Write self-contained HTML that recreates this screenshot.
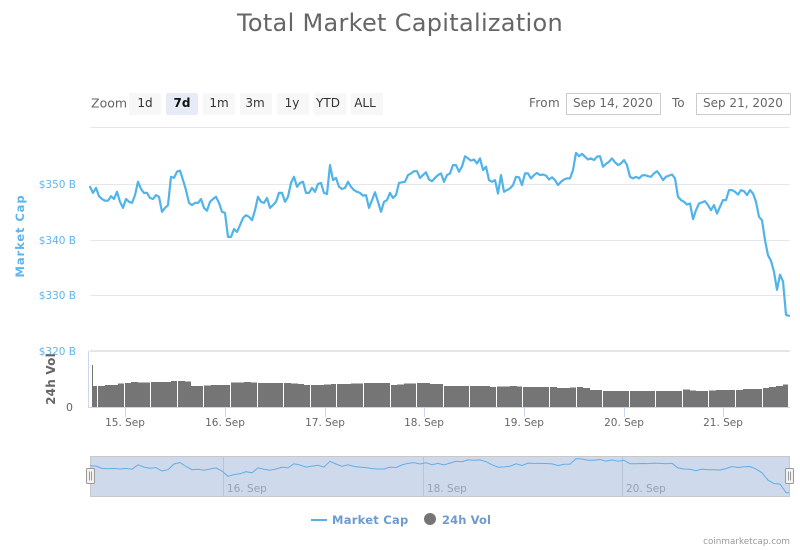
<!DOCTYPE html>
<html lang="en">
<head>
<meta charset="utf-8">
<title>Total Market Capitalization</title>
<style>
html,body{margin:0;padding:0;background:#fff;width:800px;height:550px;overflow:hidden}
svg{display:block;font-family:"DejaVu Sans","Liberation Sans",sans-serif}
.btn-bg{fill:#f7f7f7}
.btn-text{font-size:12px;fill:#333;text-anchor:middle}
</style>
</head>
<body>
<svg id="chart" width="800" height="550" viewBox="0 0 800 550" xmlns="http://www.w3.org/2000/svg">
  <text x="400" y="31" text-anchor="middle" font-size="24" fill="#666" letter-spacing="0.3">Total Market Capitalization</text>

  <text x="91" y="107.5" font-size="12.5" fill="#666">Zoom</text>
  <g><rect class="btn-bg" x="129" y="93" width="32" height="22" rx="2"/><text class="btn-text" x="145" y="107">1d</text></g>
  <g><rect x="166" y="93" width="32" height="22" rx="2" fill="#e6ebf5"/><text class="btn-text" x="182" y="107" font-weight="bold" style="fill:#111">7d</text></g>
  <g><rect class="btn-bg" x="203" y="93" width="32" height="22" rx="2"/><text class="btn-text" x="219" y="107">1m</text></g>
  <g><rect class="btn-bg" x="240" y="93" width="32" height="22" rx="2"/><text class="btn-text" x="255" y="107">3m</text></g>
  <g><rect class="btn-bg" x="277" y="93" width="32" height="22" rx="2"/><text class="btn-text" x="292" y="107">1y</text></g>
  <g><rect class="btn-bg" x="314" y="93" width="32" height="22" rx="2"/><text class="btn-text" x="328" y="107">YTD</text></g>
  <g><rect class="btn-bg" x="351" y="93" width="32" height="22" rx="2"/><text class="btn-text" x="365" y="107">ALL</text></g>

  <text x="529" y="107" font-size="12" fill="#666" letter-spacing="0.3">From</text>
  <g><rect x="566.5" y="93.5" width="94" height="21" fill="#fff" stroke="#ccc"/><text x="573" y="107" font-size="12" fill="#666">Sep 14, 2020</text></g>
  <text x="672" y="107" font-size="12" fill="#666">To</text>
  <g><rect x="696.5" y="93.5" width="94" height="21" fill="#fff" stroke="#ccc"/><text x="703" y="107" font-size="12" fill="#666">Sep 21, 2020</text></g>

  <g id="grid"></g>
  <rect x="90" y="127" width="700" height="1" fill="#e6e6e6"/>
  <g id="ylabels"></g>
  <text transform="translate(24,236) rotate(-90)" text-anchor="middle" font-size="11.5" font-weight="bold" fill="#5db5ee" letter-spacing="0.9">Market Cap</text>

  <path id="cap-line" fill="none" stroke="#50b3ea" stroke-width="2.2" stroke-linejoin="round" stroke-linecap="round"/>

  <rect x="88" y="351" width="1" height="57" fill="#ccd6eb"/>
  <g id="vol-bars"></g>
  <text transform="translate(55,379) rotate(-90)" text-anchor="middle" font-size="12" font-weight="bold" fill="#666" letter-spacing="0.2">24h Vol</text>
  <text x="73" y="411" text-anchor="end" font-size="11" fill="#666">0</text>
  <rect x="88" y="407" width="702" height="1" fill="#ccd6eb"/>
  <g id="xticks"></g>

  <g>
    <rect x="90.5" y="456.5" width="699" height="40" fill="#cfd9ec" stroke="#c8c8c8"/>
    <g id="nav-ticks"></g>
    <path id="nav-line" fill="none" stroke="#62aee4" stroke-width="1"/>
    <g><rect x="86.5" y="468.5" width="8" height="15" rx="1" fill="#f2f2f2" stroke="#999"/><path d="M89.5 471.5v9M91.5 471.5v9" stroke="#999" fill="none"/></g>
    <g><rect x="785.5" y="468.5" width="8" height="15" rx="1" fill="#f2f2f2" stroke="#999"/><path d="M788.5 471.5v9M790.5 471.5v9" stroke="#999" fill="none"/></g>
  </g>

  <g>
    <rect x="311" y="519" width="16" height="2" fill="#5dade2"/>
    <text x="332" y="524" font-size="11.5" font-weight="bold" fill="#6c9bd0" letter-spacing="0.25">Market Cap</text>
  </g>
  <g>
    <circle cx="430" cy="519" r="6" fill="#757575"/>
    <text x="442" y="524" font-size="11.5" font-weight="bold" fill="#6c9bd0" letter-spacing="0.1">24h Vol</text>
  </g>
  <text x="790" y="544" text-anchor="end" font-size="8.8" fill="#999">coinmarketcap.com</text>
</svg>
<script>
const capTicks = [320, 330, 340, 350];
const dayTicks = [15, 16, 17, 18, 19, 20, 21];
const navDayTicks = [16, 18, 20];
const seriesStartDay = 14.646;
const capStepDays = 0.0301;
const volStartDay = 14.661;
const volStepDays = 0.06667;
const firstVolumeSpike = 210;
const marketCap = [
349.5,348.4,349.3,347.8,347.3,347.0,347.0,347.8,347.3,348.6,346.8,345.7,347.3,346.8,346.6,348.0,350.4,349.1,348.4,348.4,
347.5,347.3,348.0,347.7,345.0,345.7,346.2,351.3,351.1,352.2,352.4,350.7,348.9,346.6,346.2,346.6,346.6,347.3,345.7,345.2,
346.8,347.3,347.7,346.6,345.0,344.8,340.5,340.5,341.9,341.4,342.6,343.9,344.4,344.1,343.5,345.3,347.7,346.8,346.6,
347.5,345.7,346.2,346.8,348.4,348.4,346.8,347.7,350.2,351.3,349.5,350.2,350.4,348.4,348.4,349.3,348.6,350.0,350.2,348.4,348.2,
353.4,350.7,351.1,349.5,349.1,349.3,350.4,349.5,348.9,348.6,348.4,347.9,348.0,345.7,347.1,348.5,346.8,345.0,346.8,347.1,
348.4,347.5,348.0,350.2,350.3,350.4,351.6,351.9,352.3,352.3,351.1,351.6,352.1,350.8,350.5,351.1,351.6,351.9,350.4,351.6,
351.9,353.4,353.4,352.2,353.1,355.0,354.6,354.2,354.4,353.7,354.6,352.5,353.1,350.7,350.4,350.7,348.3,351.6,348.6,348.9,
349.2,349.8,351.3,351.2,349.8,351.9,351.9,351.0,351.6,352.0,351.6,351.7,351.5,350.8,351.2,350.7,349.8,350.4,350.8,351.0,
351.0,352.5,355.6,355.0,355.4,354.9,354.4,354.6,354.3,354.9,355.0,353.1,353.6,354.0,354.6,353.9,353.4,353.7,354.3,353.4,
351.3,351.0,351.3,351.0,351.5,351.6,351.4,351.3,351.9,352.3,351.6,350.7,351.3,351.5,351.7,351.0,347.7,347.1,346.8,346.3,
346.5,343.7,345.3,346.5,346.7,346.9,346.2,345.3,346.2,344.7,345.9,347.1,347.1,348.9,348.9,348.6,348.1,348.9,348.7,348.0,
348.9,348.3,346.8,344.1,343.5,339.9,337.2,336.2,334.2,331.0,333.7,332.5,326.5,326.3
];
const volume = [
105,
105,110,110,117, 120,125,123,122, 125,125,125,130, 130,127,105,105, 107,110,110,110,
122,122,125,122, 120,120,120,120, 120,117,115,110, 110,110,112,115, 115,115,118,118,
120,120,120,120, 110,113,118,117, 120,120,115,115, 105,105,105,105, 105,105,105,100,
102,102,105,102, 100,100,100,100, 100,95,95,97, 100,95,85,85, 80,80,80,80,
80,80,80,80, 80,80,80,80, 87,83,80,80, 83,85,85,85, 85,90,90,90, 95,100,105,112
];

const svgNS = 'http://www.w3.org/2000/svg';
const xScale = d => 125.3 + (d - 15) * 99.67;
const navX = d => xScale(d) - 1.5;
const yScale = v => 351 - (v - 320) * 5.567;
const volScale = v => 407 - v / 5;
const navScale = v => 492.7 - (v - 326.3) * 1.158;
function add(parent, tag, attrs, text) {
  const el = document.createElementNS(svgNS, tag);
  for (const k in attrs) el.setAttribute(k, attrs[k]);
  if (text !== undefined) el.textContent = text;
  document.getElementById(parent).appendChild(el);
  return el;
}

capTicks.forEach(v => {
  const y = Math.round(yScale(v));
  const line = add('grid', 'rect', {x: 90, y: v === 320 ? y - 1 : y, width: 700, height: v === 320 ? 2 : 1, fill: '#e6e6e6'});
  
  
  const label = add('ylabels', 'text', {x: 76, y: y + 4, 'text-anchor': 'end', 'font-size': 10.5, fill: '#5db5ee'}, '$' + v + ' B');
  
  
});

const capPath = marketCap.map((v, i) =>
  (i ? 'L' : 'M') + xScale(seriesStartDay + i * capStepDays).toFixed(1) + ' ' + yScale(v).toFixed(1)).join('');
document.getElementById('cap-line').setAttribute('d', capPath);
let navPath = '';
marketCap.forEach((v, i) => {
  if (i % 2 === 0 || i === marketCap.length - 1) {
    navPath += (i ? 'L' : 'M') + navX(seriesStartDay + i * capStepDays + 0.015).toFixed(1) + ' ' + navScale(v).toFixed(1);
  }
});
document.getElementById('nav-line').setAttribute('d', navPath);

const spike = add('vol-bars', 'rect', {x: 92, y: volScale(firstVolumeSpike), width: 1, height: firstVolumeSpike / 5, fill: '#757575'});


volume.forEach((v, i) => {
  const left = Math.round(xScale(volStartDay + i * volStepDays));
  const right = Math.round(xScale(volStartDay + (i + 1) * volStepDays));
  const gap = i % 4 === 0 ? 1 : 0;
  const bar = add('vol-bars', 'rect', {x: left, y: volScale(v).toFixed(1), width: right - left - gap, height: (v / 5).toFixed(1), fill: '#757575', 'shape-rendering': 'crispEdges'});
  
  
});

dayTicks.forEach(d => {
  const x = Math.round(xScale(d));
  const tick = add('xticks', 'rect', {x: x, y: 408, width: 1, height: 9, fill: '#ccd6eb'});
  
  
  const label = add('xticks', 'text', {x: x, y: 426, 'text-anchor': 'middle', 'font-size': 10.5, fill: '#666'}, d + '. Sep');
  
  
});

navDayTicks.forEach(d => {
  const x = Math.round(navX(d));
  const tick = add('nav-ticks', 'rect', {x: x, y: 457, width: 1, height: 39, fill: '#b9c4d8'});
  
  
  const label = add('nav-ticks', 'text', {x: x + 4, y: 492, 'font-size': 10.5, fill: '#98a1b2'}, d + '. Sep');
  
  
});
</script>
</body>
</html>
